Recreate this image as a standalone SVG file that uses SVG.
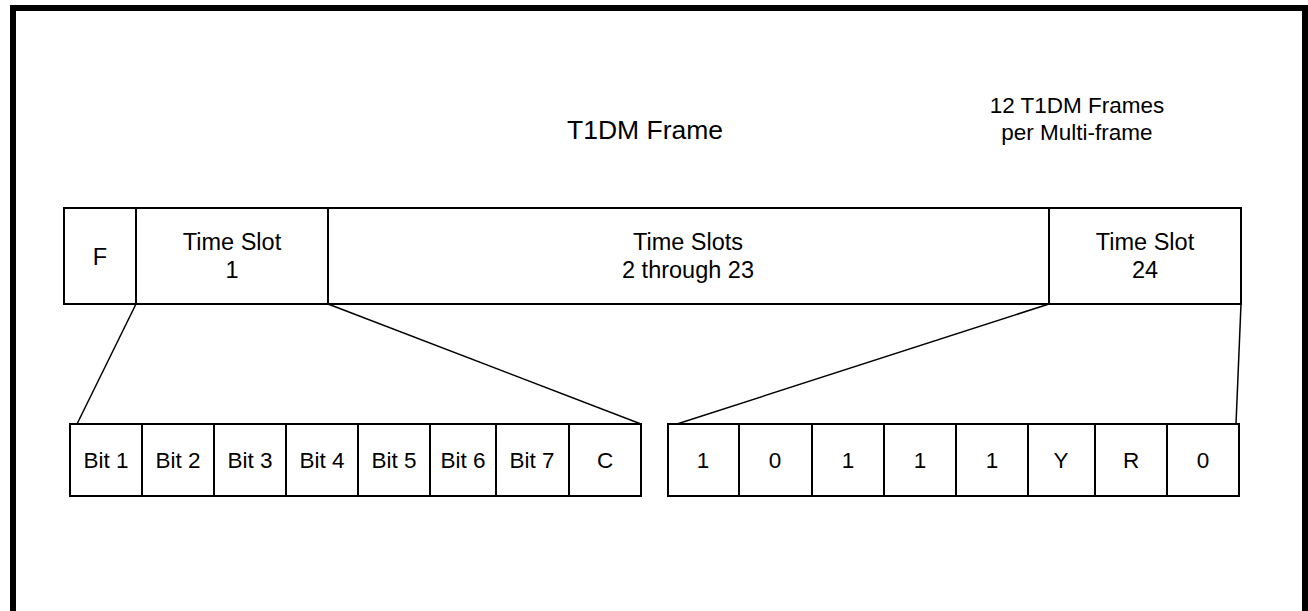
<svg xmlns="http://www.w3.org/2000/svg" width="1308" height="611" viewBox="0 0 1308 611">
<style>
.box{fill:#fff;stroke:#000;stroke-width:2}
.t{font-family:"Liberation Sans",Arial,sans-serif;fill:#000;text-anchor:middle}
.lbl{font-size:23.5px}
.bit{font-size:22.5px}
.conn{stroke:#000;stroke-width:1.5;fill:none}
</style>
<rect x="0" y="0" width="1308" height="611" fill="#fff"/>
<path d="M13,611 V8 H1305 V611" fill="none" stroke="#000" stroke-width="6"/>
<text class="t" x="645" y="139" font-size="26.5">T1DM Frame</text>
<text class="t" x="1077" y="113" font-size="22.5">12 T1DM Frames</text>
<text class="t" x="1077" y="140" font-size="22.5">per Multi-frame</text>
<g id="connectors">
<line class="conn" x1="136" y1="304" x2="77" y2="424"/>
<line class="conn" x1="328" y1="304" x2="641" y2="424"/>
<line class="conn" x1="1049" y1="304" x2="677" y2="424"/>
<line class="conn" x1="1241" y1="304" x2="1236" y2="424"/>
</g>
<g id="F"><rect class="box" x="64" y="208" width="72" height="96"/><text class="t lbl" x="100" y="265">F</text></g>
<g id="ts1"><rect class="box" x="136" y="208" width="192" height="96"/><text class="t lbl" x="232" y="250">Time Slot</text><text class="t lbl" x="232" y="278">1</text></g>
<g id="ts2_23"><rect class="box" x="328" y="208" width="721" height="96"/><text class="t lbl" x="688" y="250">Time Slots</text><text class="t lbl" x="688" y="278">2 through 23</text></g>
<g id="ts24"><rect class="box" x="1049" y="208" width="192" height="96"/><text class="t lbl" x="1145" y="250">Time Slot</text><text class="t lbl" x="1145" y="278">24</text></g>
<g id="bit1"><rect class="box" x="70" y="424" width="72" height="72"/><text class="t bit" x="106" y="468">Bit 1</text></g>
<g id="bit2"><rect class="box" x="142" y="424" width="72" height="72"/><text class="t bit" x="178" y="468">Bit 2</text></g>
<g id="bit3"><rect class="box" x="214" y="424" width="72" height="72"/><text class="t bit" x="250" y="468">Bit 3</text></g>
<g id="bit4"><rect class="box" x="286" y="424" width="72" height="72"/><text class="t bit" x="322" y="468">Bit 4</text></g>
<g id="bit5"><rect class="box" x="358" y="424" width="72" height="72"/><text class="t bit" x="394" y="468">Bit 5</text></g>
<g id="bit6"><rect class="box" x="430" y="424" width="66" height="72"/><text class="t bit" x="463" y="468">Bit 6</text></g>
<g id="bit7"><rect class="box" x="496" y="424" width="73" height="72"/><text class="t bit" x="532" y="468">Bit 7</text></g>
<g id="bitC"><rect class="box" x="569" y="424" width="72" height="72"/><text class="t bit" x="605" y="468">C</text></g>
<g id="r1"><rect class="box" x="668" y="424" width="71" height="72"/><text class="t bit" x="703" y="468">1</text></g>
<g id="r2"><rect class="box" x="739" y="424" width="73" height="72"/><text class="t bit" x="775" y="468">0</text></g>
<g id="r3"><rect class="box" x="812" y="424" width="72" height="72"/><text class="t bit" x="848" y="468">1</text></g>
<g id="r4"><rect class="box" x="884" y="424" width="72" height="72"/><text class="t bit" x="920" y="468">1</text></g>
<g id="r5"><rect class="box" x="956" y="424" width="72" height="72"/><text class="t bit" x="992" y="468">1</text></g>
<g id="r6"><rect class="box" x="1028" y="424" width="67" height="72"/><text class="t bit" x="1061" y="468">Y</text></g>
<g id="r7"><rect class="box" x="1095" y="424" width="72" height="72"/><text class="t bit" x="1131" y="468">R</text></g>
<g id="r8"><rect class="box" x="1167" y="424" width="72" height="72"/><text class="t bit" x="1203" y="468">0</text></g>
</svg>
